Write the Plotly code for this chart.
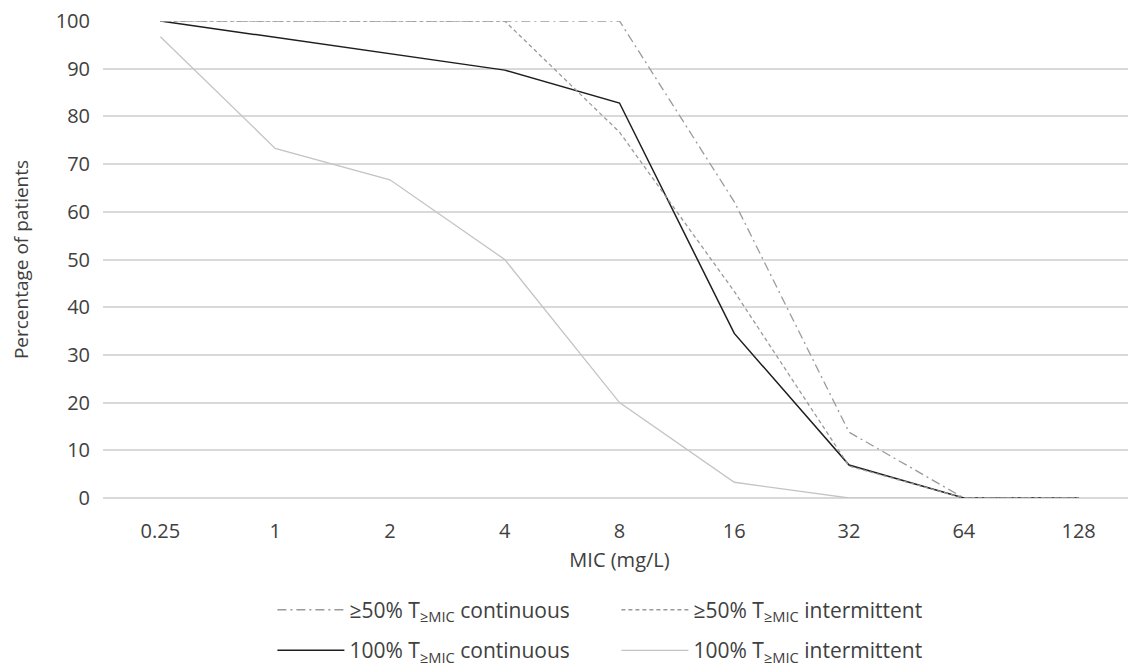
import plotly.graph_objects as go

mic = ["0.25", "1", "2", "4", "8", "16", "32", "64", "128"]
cont50 = [100, 100, 100, 100, 100, 62.1, 13.8, 0, 0]
inter50 = [100, 100, 100, 100, 76.7, 43.3, 6.7, 0, 0]
cont100 = [100, 96.6, 93.1, 89.7, 82.8, 34.5, 6.9, 0, 0]
inter100 = [96.7, 73.3, 66.7, 50.0, 20.0, 3.3, 0, 0, 0]

names = [
    "≥50% T<sub>≥MIC</sub> continuous",
    "≥50% T<sub>≥MIC</sub> intermittent",
    "100% T<sub>≥MIC</sub> continuous",
    "100% T<sub>≥MIC</sub> intermittent",
]

FONT = "Open Sans"
TXT = "#404040"

fig = go.Figure()
fig.add_trace(go.Scatter(x=mic, y=inter100, mode="lines", name=names[3], legend="legend2",
                         line=dict(color="#c4c4c4", width=1.3)))
fig.add_trace(go.Scatter(x=mic, y=cont100, mode="lines", name=names[2], legend="legend2",
                         line=dict(color="#1e1e1e", width=1.5)))
fig.add_trace(go.Scatter(x=mic, y=inter50, mode="lines", name=names[1], legend="legend",
                         line=dict(color="#9a9a9a", width=1.3, dash="4px,3px")))
fig.add_trace(go.Scatter(x=mic, y=cont50, mode="lines", name=names[0], legend="legend",
                         line=dict(color="#9a9a9a", width=1.3, dash="9px,4px,2px,4px")))

leg_common = dict(orientation="h", xanchor="center", x=0.497, yanchor="middle",
                  entrywidth=262, entrywidthmode="pixels", itemwidth=67,
                  font=dict(family=FONT, size=21, color=TXT), traceorder="reversed",
                  bgcolor="rgba(0,0,0,0)")

fig.update_layout(
    width=1128, height=656,
    margin=dict(l=95, r=0, t=13, b=166, autoexpand=False),
    paper_bgcolor="white", plot_bgcolor="white",
    font=dict(family=FONT, size=20, color=TXT),
    showlegend=True,
    legend=dict(**leg_common, y=-0.235),
    legend2=dict(**leg_common, y=-0.32),
    xaxis=dict(type="category", range=[-0.5, 8.5], showgrid=False, showline=False,
               ticks="", tickfont=dict(size=20, color=TXT), ticklabelstandoff=19,
               title=dict(text="MIC (mg/L)", font=dict(size=20, color=TXT), standoff=9)),
    yaxis=dict(range=[0, 100], dtick=10, showgrid=True, gridcolor="#d9d9d9", gridwidth=1.5,
               zeroline=True, zerolinecolor="#d9d9d9", zerolinewidth=1.5,
               showline=False, ticks="", ticklabelstandoff=12, ticklabeloverflow="allow",
               tickfont=dict(size=20, color=TXT),
               title=dict(text="Percentage of patients", font=dict(size=19, color=TXT), standoff=33)),
)

fig.write_html("out.html")
